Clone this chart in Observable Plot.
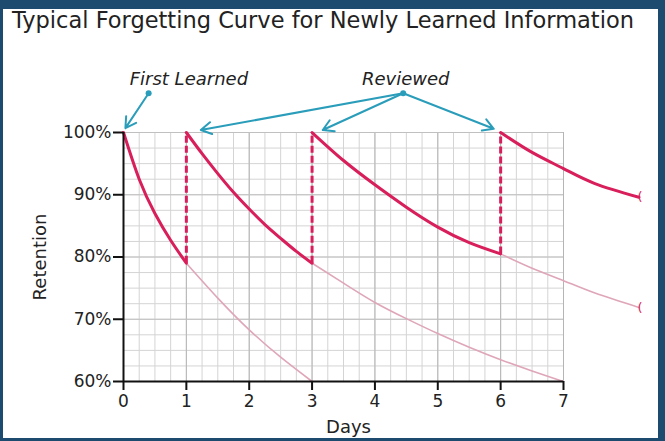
<!DOCTYPE html>
<html>
<head>
<meta charset="utf-8">
<script src="https://cdn.jsdelivr.net/npm/d3@7"></script>
<script src="https://cdn.jsdelivr.net/npm/@observablehq/plot@0.6"></script>
<style>
  html, body { margin: 0; padding: 0; background: #1d4a6f; }
  #frame { position: absolute; left: 0; top: 0; width: 665px; height: 441px; background: #1d4a6f; overflow: hidden; }
  #inner { position: absolute; left: 3px; top: 9px; width: 655px; height: 429px; background: #ffffff; }
  #title { position: absolute; left: 12px; top: 7px; font-family: "DejaVu Sans", sans-serif; font-size: 22.5px; color: #222; white-space: nowrap; }
  #chart { position: absolute; left: 0; top: 40px; }
</style>
</head>
<body>
<div id="frame">
  <div id="inner"></div>
  <div id="title">Typical Forgetting Curve for Newly Learned Information</div>
  <div id="chart"></div>
</div>
<script>
// ---- data ----
const dayTicks = [0, 1, 2, 3, 4, 5, 6, 7];
const retentionTicks = [60, 70, 80, 90, 100];

// solid (active) segments: [day, retention %]
const firstLearned = [[0, 100], [0.25, 92.5], [0.5, 87], [0.75, 82.7], [1, 79]];
const review1 = [[1, 100], [1.25, 96.6], [1.5, 93.4], [1.75, 90.4], [2, 87.7], [2.25, 85.2], [2.5, 83], [2.75, 80.9], [3, 79]];
const review2 = [[3, 100], [3.5, 95.5], [4, 91.6], [4.5, 88], [5, 84.8], [5.5, 82.3], [6, 80.5]];
const review3 = [[6, 100], [6.5, 96.8], [7, 94.2], [7.5, 91.8], [8.2, 89.6]];

// faint continuations (what would happen without review)
const fade1 = [[1, 79], [1.5, 73.4], [2, 68.3], [2.5, 63.9], [3, 60]];
const fade2 = [[3, 79], [3.5, 75.8], [4, 72.7], [4.5, 70.1], [5, 67.7], [5.5, 65.5], [6, 63.5], [6.5, 61.7], [7, 60]];
const fade3 = [[6, 80.5], [6.5, 78.2], [7, 76.2], [7.5, 74.2], [8.2, 71.9]];

// review jumps (dashed)
const reviewDays = [1, 3, 6];
const reviewFrom = [79, 79, 80.5];

// annotations
const annoLabels = ["First Learned", "Reviewed"];
const annoLabelX = [1.04, 4.49];
const annoLabelY = [108.5, 108.5];
const annoArrowFrom = [[0.40, 106.3], [4.45, 106.3], [4.45, 106.3], [4.45, 106.3]];
const annoArrowTo = [[0.03, 100.7], [1.23, 100.4], [3.17, 100.4], [5.89, 100.6]];

// curve end markers
const endMarks = [[8.2, 89.6], [8.2, 71.9]];

// ---- build tables ----
const toRows = (arr, series) => arr.map(([day, r]) => ({day, r, series}));
const solid = [
  ...toRows(firstLearned, "s0"), ...toRows(review1, "s1"),
  ...toRows(review2, "s2"), ...toRows(review3, "s3")
];
const faint = [...toRows(fade1, "f1"), ...toRows(fade2, "f2"), ...toRows(fade3, "f3")];
const jumps = reviewDays.map((d, i) => ({day: d, from: reviewFrom[i], to: 100}));
const labels = annoLabels.map((t, i) => ({text: t, x: annoLabelX[i], y: annoLabelY[i]}));
const arrows = annoArrowFrom.map((f, i) => ({x1: f[0], y1: f[1], x2: annoArrowTo[i][0], y2: annoArrowTo[i][1]}));
const dots = [annoArrowFrom[0], annoArrowFrom[1]];
const ends = endMarks.map(([day, r]) => ({day, r}));

const minorX = d3.range(0, 7.001, 0.25);
const minorY = d3.range(60, 100.001, 2.5);

const SOLID = "#d81e5b";
const FAINT = "#dfa6b8";
const TEAL = "#2a9dba";

const chart = Plot.plot({
  width: 665,
  height: 400,
  marginLeft: 123,
  marginRight: 102,
  marginTop: 92,
  marginBottom: 59,
  style: {fontFamily: "DejaVu Sans, sans-serif", fontSize: "17px", color: "#222", background: "transparent", overflow: "visible"},
  x: {domain: [0, 7]},
  y: {domain: [60, 100]},
  marks: [
    Plot.gridX(minorX, {stroke: "#d4d4d4", strokeOpacity: 1, strokeWidth: 1}),
    Plot.gridY(minorY, {stroke: "#d4d4d4", strokeOpacity: 1, strokeWidth: 1}),
    Plot.gridX(dayTicks, {stroke: "#b5b5b5", strokeOpacity: 1, strokeWidth: 1}),
    Plot.gridY(retentionTicks, {stroke: "#c0c0c0", strokeOpacity: 1, strokeWidth: 1}),
    Plot.line(faint, {x: "day", y: "r", z: "series", stroke: FAINT, strokeWidth: 1.6, curve: "natural"}),
    Plot.ruleX(jumps, {x: "day", y1: "from", y2: "to", stroke: SOLID, strokeWidth: 3, strokeDasharray: "7,3"}),
    Plot.line(solid, {x: "day", y: "r", z: "series", stroke: SOLID, strokeWidth: 3, curve: "natural"}),
    Plot.text(ends, {x: "day", y: "r", text: () => "(", fill: SOLID, fontSize: 13, dx: 1}),
    Plot.ruleY([60], {stroke: "#111", strokeWidth: 2}),
    Plot.ruleX([0], {stroke: "#111", strokeWidth: 2}),
    Plot.axisX({ticks: dayTicks, tickSize: 9, tickPadding: 4, tickFormat: d => String(d), stroke: "#111", strokeWidth: 2, label: null, fontSize: 17}),
    Plot.axisY({ticks: retentionTicks, tickSize: 10, tickPadding: 2, tickFormat: d => d + "%", stroke: "#111", strokeWidth: 2, label: null, fontSize: 17}),
    Plot.text(["Retention"], {frameAnchor: "left", textAnchor: "middle", dx: -83, rotate: -90, fontSize: 18, fill: "#222"}),
    Plot.text(["Days"], {frameAnchor: "bottom", dy: 51, dx: 5, fontSize: 18, fill: "#222"}),
    Plot.arrow(arrows, {x1: "x1", y1: "y1", x2: "x2", y2: "y2", stroke: TEAL, strokeWidth: 2, headLength: 9}),
    Plot.dot(dots, {x: d => d[0], y: d => d[1], r: 3, fill: TEAL}),
    Plot.text(labels, {x: "x", y: "y", text: "text", fontStyle: "italic", fontSize: 18, fill: "#222"})
  ]
});
document.getElementById("chart").appendChild(chart);
</script>
</body>
</html>
